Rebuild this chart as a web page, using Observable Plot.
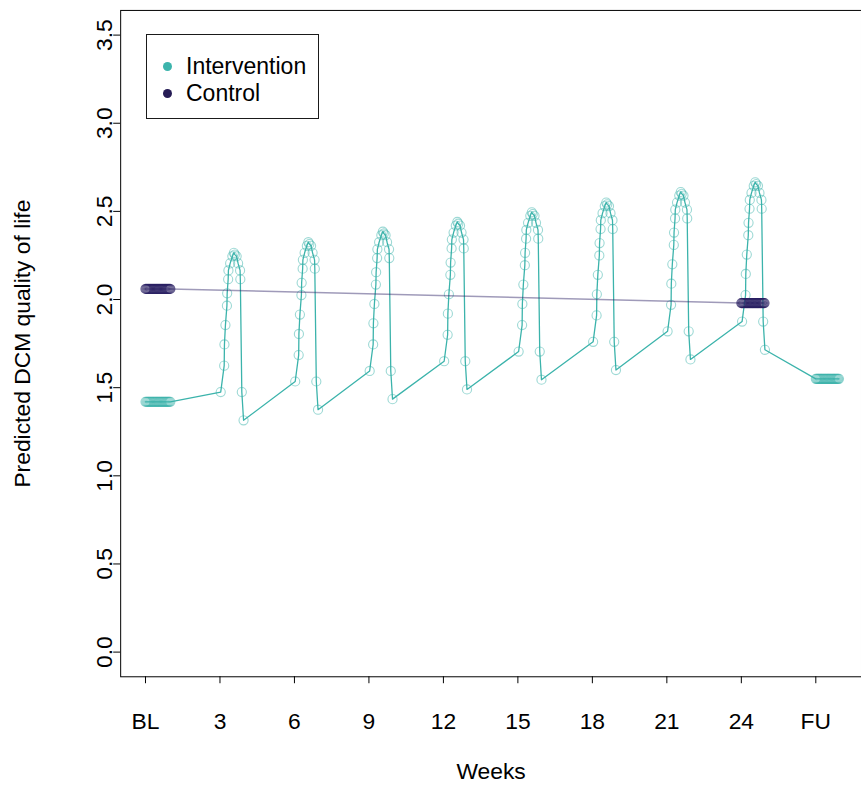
<!DOCTYPE html>
<html>
<head>
<meta charset="utf-8">
<script src="https://cdn.jsdelivr.net/npm/d3@7"></script>
<script src="https://cdn.jsdelivr.net/npm/@observablehq/plot@0.6"></script>
<style>
  html, body { margin: 0; padding: 0; background: #fff; overflow: hidden; }
  #wrap { position: relative; width: 861px; height: 789px; overflow: hidden; }
  #chart svg { display: block; }
  .lg { position: absolute; }
  #lgbox { left: 146px; top: 34px; width: 173px; height: 85px; box-sizing: border-box; border: 1.5px solid #1a1a1a; background: #fff; }
  .lgdot { width: 9px; height: 9px; border-radius: 50%; }
  .lgtxt { font-family: "Liberation Sans", Arial, sans-serif; font-size: 23px; line-height: 26px; color: #000; white-space: nowrap; }
</style>
</head>
<body>
<div id="wrap">
  <div id="chart"></div>
  <div id="lgbox" class="lg"></div>
  <div class="lg lgdot" style="left:163px;top:62px;background:#3cb4ac"></div>
  <div class="lg lgtxt" style="left:186px;top:53px">Intervention</div>
  <div class="lg lgdot" style="left:163px;top:89px;background:#261c55"></div>
  <div class="lg lgtxt" style="left:186px;top:80px">Control</div>
</div>
<script>
// ---- data (weeks, predicted DCM quality of life) ----
const intervWeeks = [
  0, 0.036, 0.071, 0.107, 0.143, 0.179, 0.214, 0.25, 0.286, 0.321, 0.357, 0.393, 0.429, 0.464, 0.5,
  0.536, 0.571, 0.607, 0.643, 0.679, 0.714, 0.75, 0.786, 0.821, 0.857, 0.893, 0.929, 0.964, 1.0,
  3.03, 3.17, 3.18, 3.22, 3.28, 3.29, 3.33, 3.34, 3.41, 3.50, 3.56, 3.60, 3.67, 3.73, 3.81, 3.82, 3.88, 3.95,
  6.03, 6.17, 6.18, 6.22, 6.28, 6.29, 6.33, 6.34, 6.41, 6.50, 6.56, 6.60, 6.67, 6.73, 6.81, 6.82, 6.88, 6.95,
  9.03, 9.17, 9.18, 9.22, 9.28, 9.29, 9.33, 9.34, 9.41, 9.50, 9.56, 9.60, 9.67, 9.73, 9.81, 9.82, 9.88, 9.95,
  12.03, 12.17, 12.18, 12.22, 12.28, 12.29, 12.33, 12.34, 12.41, 12.50, 12.56, 12.60, 12.67, 12.73, 12.81, 12.82, 12.88, 12.95,
  15.03, 15.17, 15.18, 15.22, 15.28, 15.29, 15.33, 15.34, 15.41, 15.50, 15.56, 15.60, 15.67, 15.73, 15.81, 15.82, 15.88, 15.95,
  18.03, 18.17, 18.18, 18.22, 18.28, 18.29, 18.33, 18.34, 18.41, 18.50, 18.56, 18.60, 18.67, 18.73, 18.81, 18.82, 18.88, 18.95,
  21.03, 21.17, 21.18, 21.22, 21.28, 21.29, 21.33, 21.34, 21.41, 21.50, 21.56, 21.60, 21.67, 21.73, 21.81, 21.82, 21.88, 21.95,
  24.03, 24.17, 24.18, 24.22, 24.28, 24.29, 24.33, 24.34, 24.41, 24.50, 24.56, 24.60, 24.67, 24.73, 24.81, 24.82, 24.88, 24.95,
  27.0, 27.033, 27.067, 27.1, 27.133, 27.167, 27.2, 27.233, 27.267, 27.3, 27.333, 27.367, 27.4, 27.433, 27.467,
  27.5, 27.533, 27.567, 27.6, 27.633, 27.667, 27.7, 27.733, 27.767, 27.8, 27.833, 27.867, 27.9, 27.933
];
const intervValues = [
  1.42, 1.42, 1.42, 1.42, 1.42, 1.42, 1.42, 1.42, 1.42, 1.42, 1.42, 1.42, 1.42, 1.42, 1.42,
  1.42, 1.42, 1.42, 1.42, 1.42, 1.42, 1.42, 1.42, 1.42, 1.42, 1.42, 1.42, 1.42, 1.42,
  1.475, 1.625, 1.745, 1.855, 1.965, 2.035, 2.115, 2.165, 2.205, 2.245, 2.265, 2.255, 2.245, 2.205, 2.165, 2.115, 1.475, 1.315,
  1.535, 1.685, 1.805, 1.915, 2.025, 2.095, 2.175, 2.225, 2.265, 2.305, 2.325, 2.315, 2.305, 2.265, 2.225, 2.175, 1.535, 1.375,
  1.595, 1.745, 1.865, 1.975, 2.085, 2.155, 2.235, 2.285, 2.325, 2.365, 2.385, 2.375, 2.365, 2.325, 2.285, 2.235, 1.595, 1.435,
  1.65, 1.80, 1.92, 2.03, 2.14, 2.21, 2.29, 2.34, 2.38, 2.42, 2.44, 2.43, 2.42, 2.38, 2.34, 2.29, 1.65, 1.49,
  1.705, 1.855, 1.975, 2.085, 2.195, 2.265, 2.345, 2.395, 2.435, 2.475, 2.495, 2.485, 2.475, 2.435, 2.395, 2.345, 1.705, 1.545,
  1.76, 1.91, 2.03, 2.14, 2.25, 2.32, 2.40, 2.45, 2.49, 2.53, 2.55, 2.54, 2.53, 2.49, 2.45, 2.40, 1.76, 1.60,
  1.82, 1.97, 2.09, 2.20, 2.31, 2.38, 2.46, 2.51, 2.55, 2.59, 2.61, 2.60, 2.59, 2.55, 2.51, 2.46, 1.82, 1.66,
  1.875, 2.025, 2.145, 2.255, 2.365, 2.435, 2.515, 2.565, 2.605, 2.645, 2.665, 2.655, 2.645, 2.605, 2.565, 2.515, 1.875, 1.715,
  1.55, 1.55, 1.55, 1.55, 1.55, 1.55, 1.55, 1.55, 1.55, 1.55, 1.55, 1.55, 1.55, 1.55, 1.55,
  1.55, 1.55, 1.55, 1.55, 1.55, 1.55, 1.55, 1.55, 1.55, 1.55, 1.55, 1.55, 1.55, 1.55
];
const controlWeeks = [
  0, 0.036, 0.071, 0.107, 0.143, 0.179, 0.214, 0.25, 0.286, 0.321, 0.357, 0.393, 0.429, 0.464, 0.5,
  0.536, 0.571, 0.607, 0.643, 0.679, 0.714, 0.75, 0.786, 0.821, 0.857, 0.893, 0.929, 0.964, 1.0,
  24.0, 24.033, 24.067, 24.1, 24.133, 24.167, 24.2, 24.233, 24.267, 24.3, 24.333, 24.367, 24.4, 24.433, 24.467,
  24.5, 24.533, 24.567, 24.6, 24.633, 24.667, 24.7, 24.733, 24.767, 24.8, 24.833, 24.867, 24.9, 24.933
];
const controlValues = [
  2.06, 2.06, 2.06, 2.06, 2.06, 2.06, 2.06, 2.06, 2.06, 2.06, 2.06, 2.06, 2.06, 2.06, 2.06,
  2.06, 2.06, 2.06, 2.06, 2.06, 2.06, 2.06, 2.06, 2.06, 2.06, 2.06, 2.06, 2.06, 2.06,
  1.98, 1.98, 1.98, 1.98, 1.98, 1.98, 1.98, 1.98, 1.98, 1.98, 1.98, 1.98, 1.98, 1.98, 1.98,
  1.98, 1.98, 1.98, 1.98, 1.98, 1.98, 1.98, 1.98, 1.98, 1.98, 1.98, 1.98, 1.98, 1.98
];
const xTickValues = [0, 3, 6, 9, 12, 15, 18, 21, 24, 27];
const xTickLabels = ["BL", "3", "6", "9", "12", "15", "18", "21", "24", "FU"];
const yTickValues = [0, 0.5, 1, 1.5, 2, 2.5, 3, 3.5];
const yTickLabels = ["0.0", "0.5", "1.0", "1.5", "2.0", "2.5", "3.0", "3.5"];
const xTitle = "Weeks";
const yTitle = "Predicted DCM quality of life";

const teal = "#3bb3ab";
const navy = "#2a2063";
const FONT = "'Liberation Sans', Arial, sans-serif";

const interv = intervWeeks.map((w, i) => ({week: w, value: intervValues[i]}));
const control = controlWeeks.map((w, i) => ({week: w, value: controlValues[i]}));

const chart = Plot.plot({
  width: 867,
  height: 789,
  marginLeft: 121,
  marginRight: 0,
  marginTop: 10,
  marginBottom: 108,
  x: {domain: [-1, 28.84]},
  y: {domain: [-0.14, 3.64]},
  style: {fontFamily: FONT, fontSize: "23px", background: "#fff", color: "#000"},
  marks: [
    Plot.line(interv, {x: "week", y: "value", stroke: teal, strokeWidth: 1.3}),
    Plot.dot(interv, {x: "week", y: "value", r: 4.6, stroke: teal, strokeOpacity: 0.5, strokeWidth: 1.1, fill: "none"}),
    Plot.line(control, {x: "week", y: "value", stroke: navy, strokeOpacity: 0.45, strokeWidth: 1.5}),
    Plot.dot(control, {x: "week", y: "value", r: 4.6, stroke: navy, strokeOpacity: 0.7, strokeWidth: 1.1, fill: "none"}),
    Plot.frame({stroke: "#000", strokeWidth: 1}),
    Plot.axisX({
      ticks: xTickValues,
      tickFormat: (d) => xTickLabels[xTickValues.indexOf(d)],
      tickSize: 7, tickPadding: 29, label: null,
      fontSize: 23, fontFamily: FONT, stroke: "#000"
    }),
    Plot.axisY({
      ticks: yTickValues,
      tickFormat: (d) => yTickLabels[yTickValues.indexOf(d)],
      tickSize: 7, tickPadding: 2, tickRotate: -90, label: null,
      fontSize: 23, fontFamily: FONT, stroke: "#000"
    }),
    Plot.text([xTitle], {frameAnchor: "bottom", dy: 103, fontSize: 23, fontFamily: FONT, fill: "#000"}),
    Plot.text([yTitle], {frameAnchor: "left", textAnchor: "middle", dx: -99, rotate: -90, fontSize: 23, fontFamily: FONT, fill: "#000"})
  ]
});
document.getElementById("chart").appendChild(chart);
</script>
</body>
</html>
